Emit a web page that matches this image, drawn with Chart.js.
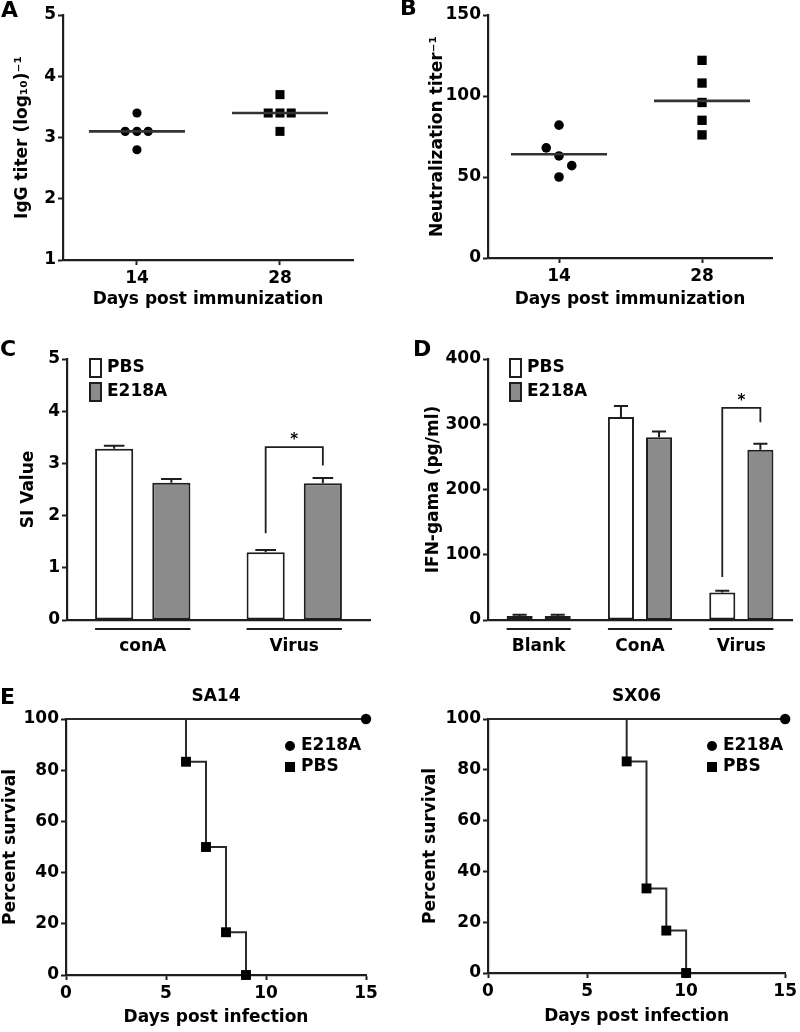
<!DOCTYPE html>
<html>
<head>
<meta charset="utf-8">
<script src="https://cdn.jsdelivr.net/npm/chart.js@4.4.0/dist/chart.umd.min.js"></script>
<style>
  body { margin: 0; background: #fff; }
  #fig { position: relative; width: 800px; height: 1032px; overflow: hidden; }
  #fig canvas { position: absolute; }
  .tag { position: absolute; font: bold 22px "DejaVu Sans", sans-serif; line-height: 1; color: #000; }
</style>
</head>
<body>
<div id="fig">
  <canvas id="pA" width="400" height="320" style="left:0;top:0"></canvas>
  <canvas id="pB" width="400" height="320" style="left:400px;top:0"></canvas>
  <canvas id="pC" width="400" height="340" style="left:0;top:320px"></canvas>
  <canvas id="pD" width="400" height="340" style="left:400px;top:320px"></canvas>
  <canvas id="pE1" width="400" height="372" style="left:0;top:660px"></canvas>
  <canvas id="pE2" width="400" height="372" style="left:400px;top:660px"></canvas>
  <div class="tag" style="left:1px;top:-1px">A</div>
  <div class="tag" style="left:400px;top:-3px">B</div>
  <div class="tag" style="left:0;top:338px">C</div>
  <div class="tag" style="left:413px;top:338px">D</div>
  <div class="tag" style="left:0;top:686px">E</div>
</div>
<script>
// ---- data ----
const immunDays = [14, 28];

// A: IgG titer (log10), 5 mice per time point
const igg14 = [3.4, 3.1, 3.1, 3.1, 2.8];
const igg28 = [3.7, 3.4, 3.4, 3.4, 3.1];
const iggSpread = [0, -1.15, 0, 1.1, 0];   // horizontal scatter of the dots (days)
const iggMedian = [3.1, 3.4];

// B: neutralization titer
const neut14 = [82, 68, 63, 57, 50];
const neut28 = [122, 108, 96, 85, 76];
const neut14Spread = [0, -1.25, 0, 1.25, 0];
const neut28Spread = [0, 0, 0, 0, 0];
const neutMedian = [64, 97];

// C: SI value
const siGroups = ['conA', 'Virus'];
const siPBS = [3.28, 1.30];
const siPBSErr = [0.06, 0.04];
const siE218A = [2.63, 2.62];
const siE218AErr = [0.07, 0.10];
const siSignif = [null, [1.66, 3.31, 2.96]];   // left leg, bracket top, right leg

// D: IFN-gamma (pg/ml)
const ifnGroups = ['Blank', 'ConA', 'Virus'];
const ifnPBS = [6, 311, 42];
const ifnPBSErr = [2, 17, 3];
const ifnE218A = [6, 280, 261];
const ifnE218AErr = [2, 9, 9];
const ifnSignif = [null, null, [66, 325, 303]];

// E: survival
const survTicks = [0, 5, 10, 15];
const e218aDays = [0, 15];
const e218aSurv = [100, 100];
const sa14Days = [0, 6, 7, 8, 9];
const sa14PBS = [100, 83.3, 50, 16.7, 0];
const sx06Days = [0, 7, 8, 9, 10];
const sx06PBS = [100, 83.3, 33.3, 16.7, 0];

// ---- look ----
const INK = '#1e1e1e';
const FAMILY = '"DejaVu Sans", "Liberation Sans", sans-serif';
const FONT = { family: FAMILY, weight: 'bold', size: 17 };
const MEDIAN_HALF = 4.7;
const GREY = '#8b8b8b';

Chart.defaults.font.family = FAMILY;
Chart.defaults.color = '#000';
Chart.defaults.animation = false;

const pts = (xs, ys) => ys.map((y, i) => ({ x: xs[i], y }));

function valueAxis(min, max, step, title, titlePad, width) {
  return {
    position: 'left', min, max,
    grid: { drawOnChartArea: false, tickLength: 5, tickColor: INK, tickWidth: 2 },
    border: { color: INK, width: 2.2 },
    ticks: { stepSize: step, padding: 2, color: '#000', font: FONT },
    title: { display: true, text: title, color: '#000', font: FONT, padding: { top: titlePad, bottom: 0 } },
    afterFit: s => { s.width = width; }
  };
}

function numberAxis(min, max, at, title, titlePad, height) {
  return {
    type: 'linear', min, max,
    afterBuildTicks: s => { s.ticks = at.map(v => ({ value: v })); },
    grid: { drawOnChartArea: false, tickLength: 5, tickColor: INK, tickWidth: 2 },
    border: { color: INK, width: 2.2 },
    ticks: { padding: 3, color: '#000', font: FONT },
    title: { display: true, text: title, color: '#000', font: FONT, padding: { top: 0, bottom: titlePad } },
    afterFit: s => { s.height = height; }
  };
}

function groupAxis(height) {
  return {
    type: 'category',
    grid: { display: false, drawTicks: false },
    border: { color: INK, width: 2.2 },
    ticks: { padding: 16, color: '#000', font: FONT },
    afterFit: s => { s.height = height; }
  };
}

// error bars, group underlines, significance brackets, legends
const extras = {
  id: 'extras',
  afterDatasetsDraw(chart, args, o) {
    const ctx = chart.ctx, a = chart.chartArea, y = chart.scales.y;
    ctx.save();
    ctx.strokeStyle = INK;
    ctx.fillStyle = '#000';
    ctx.lineWidth = 2;
    if (o.bars) {
      chart.data.datasets.forEach((ds, di) => {
        chart.getDatasetMeta(di).data.forEach((el, i) => {
          const top = y.getPixelForValue(ds.data[i] + ds.errorBars[i]);
          const half = el.width * 0.27;
          ctx.beginPath();
          ctx.moveTo(el.x, el.y); ctx.lineTo(el.x, top);
          ctx.moveTo(el.x - half, top); ctx.lineTo(el.x + half, top);
          ctx.stroke();
        });
      });
      const m0 = chart.getDatasetMeta(0).data, m1 = chart.getDatasetMeta(1).data;
      m0.forEach((b0, i) => {
        const b1 = m1[i];
        const ly = a.bottom + 9;
        ctx.beginPath();
        ctx.moveTo(b0.x - b0.width / 2, ly); ctx.lineTo(b1.x + b1.width / 2, ly);
        ctx.stroke();
        const s = o.signif[i];
        if (s) {
          const yt = y.getPixelForValue(s[1]);
          ctx.lineWidth = 1.8;
          ctx.beginPath();
          ctx.moveTo(b0.x, y.getPixelForValue(s[0]));
          ctx.lineTo(b0.x, yt); ctx.lineTo(b1.x, yt);
          ctx.lineTo(b1.x, y.getPixelForValue(s[2]));
          ctx.stroke();
          ctx.lineWidth = 2;
          ctx.font = 'bold 15px ' + FAMILY;
          ctx.textAlign = 'center';
          ctx.textBaseline = 'alphabetic';
          ctx.fillText('*', (b0.x + b1.x) / 2, yt - 3);
        }
      });
      chart.data.datasets.forEach((ds, i) => {
        const bx = a.left + o.legend[0], by = a.top + o.legend[1] + i * 24;
        ctx.fillStyle = ds.backgroundColor;
        ctx.fillRect(bx, by, 11, 18);
        ctx.strokeRect(bx, by, 11, 18);
        ctx.fillStyle = '#000';
        ctx.font = 'bold 17px ' + FAMILY;
        ctx.textAlign = 'left';
        ctx.textBaseline = 'middle';
        ctx.fillText(ds.label, bx + 17, by + 9);
      });
    }
    if (o.markLegend) {
      chart.data.datasets.forEach((ds, i) => {
        const mx = a.left + o.markLegend[0], my = a.top + o.markLegend[1] + i * 21;
        ctx.fillStyle = '#000';
        ctx.beginPath();
        if (ds.pointStyle === 'rect') ctx.rect(mx - 5, my - 5, 10, 10);
        else ctx.arc(mx, my, 5, 0, Math.PI * 2);
        ctx.fill();
        ctx.font = 'bold 17px ' + FAMILY;
        ctx.textAlign = 'left';
        ctx.textBaseline = 'middle';
        ctx.fillText(ds.label, mx + 11, my);
      });
    }
    ctx.restore();
  }
};

function dots(label, xs, ys, style, r) {
  return { label, data: pts(xs, ys), pointStyle: style, pointRadius: r, pointHoverRadius: r,
    backgroundColor: '#000', borderColor: '#000', borderWidth: 0, showLine: false, clip: false };
}
function medianLine(day, m) {
  return { data: [{ x: day - MEDIAN_HALF, y: m }, { x: day + MEDIAN_HALF, y: m }],
    showLine: true, pointRadius: 0, borderColor: '#333', borderWidth: 2.6, clip: false };
}

// A
new Chart(document.getElementById('pA'), {
  type: 'scatter',
  data: { datasets: [
    medianLine(immunDays[0], iggMedian[0]),
    medianLine(immunDays[1], iggMedian[1]),
    dots('14', iggSpread.map(d => immunDays[0] + d), igg14, 'circle', 4.6),
    dots('28', iggSpread.map(d => immunDays[1] + d), igg28, 'rect', 6.4)
  ] },
  options: {
    responsive: false,
    layout: { padding: { top: 15, right: 47, left: 0, bottom: 0 } },
    plugins: { legend: { display: false }, tooltip: { enabled: false } },
    scales: {
      x: numberAxis(6.76, 35.15, immunDays, 'Days post immunization', 10, 60),
      y: valueAxis(1, 5, 1, 'IgG titer (log\u2081\u2080)\u207B\u00B9', 12, 63)
    }
  }
});

// B
new Chart(document.getElementById('pB'), {
  type: 'scatter',
  data: { datasets: [
    medianLine(immunDays[0], neutMedian[0]),
    medianLine(immunDays[1], neutMedian[1]),
    dots('14', neut14Spread.map(d => immunDays[0] + d), neut14, 'circle', 4.8),
    dots('28', neut28Spread.map(d => immunDays[1] + d), neut28, 'rect', 6.6)
  ] },
  options: {
    responsive: false,
    layout: { padding: { top: 15, right: 28, left: 0, bottom: 0 } },
    plugins: { legend: { display: false }, tooltip: { enabled: false } },
    scales: {
      x: numberAxis(7.05, 34.85, immunDays, 'Days post immunization', 10, 62),
      y: valueAxis(0, 150, 50, 'Neutralization titer\u207B\u00B9', 27, 88)
    }
  }
});

function barSets(pbs, pbsErr, vac, vacErr, catPct, barPct) {
  const base = { borderColor: INK, borderWidth: 2, borderSkipped: false,
    categoryPercentage: catPct, barPercentage: barPct };
  return [
    Object.assign({ label: 'PBS', data: pbs, errorBars: pbsErr, backgroundColor: '#ffffff' }, base),
    Object.assign({ label: 'E218A', data: vac, errorBars: vacErr, backgroundColor: GREY }, base)
  ];
}

// C
new Chart(document.getElementById('pC'), {
  type: 'bar',
  data: { labels: siGroups, datasets: barSets(siPBS, siPBSErr, siE218A, siE218AErr, 0.755, 0.667) },
  options: {
    responsive: false,
    layout: { padding: { top: 39, right: 30, left: 0, bottom: 0 } },
    plugins: { legend: { display: false }, tooltip: { enabled: false },
      extras: { bars: true, signif: siSignif, legend: [23, 0] } },
    scales: {
      x: groupAxis(40),
      y: valueAxis(0, 5, 1, 'SI Value', 18, 67)
    }
  },
  plugins: [extras]
});

// D
new Chart(document.getElementById('pD'), {
  type: 'bar',
  data: { labels: ifnGroups, datasets: barSets(ifnPBS, ifnPBSErr, ifnE218A, ifnE218AErr, 0.752, 0.684) },
  options: {
    responsive: false,
    layout: { padding: { top: 39, right: 8, left: 0, bottom: 0 } },
    plugins: { legend: { display: false }, tooltip: { enabled: false },
      extras: { bars: true, signif: ifnSignif, legend: [22, 0] } },
    scales: {
      x: groupAxis(40),
      y: valueAxis(0, 400, 100, 'IFN-gama (pg/ml)', 23, 88)
    }
  },
  plugins: [extras]
});

function survivalChart(id, title, pbsDays, pbsSurv, left, right, bottom, yPad, xPad) {
  const step = { showLine: true, stepped: true, borderColor: '#2a2a2a', borderWidth: 2,
    backgroundColor: '#000', pointBorderWidth: 0, clip: false };
  new Chart(document.getElementById(id), {
    type: 'scatter',
    data: { datasets: [
      Object.assign({}, step, { label: 'E218A', data: pts(e218aDays, e218aSurv), pointStyle: 'circle',
        pointRadius: c => (c.dataIndex === 0 ? 0 : 5.2) }),
      Object.assign({}, step, { label: 'PBS', data: pts(pbsDays, pbsSurv), pointStyle: 'rect',
        pointRadius: c => (c.dataIndex === 0 ? 0 : 7) })
    ] },
    options: {
      responsive: false,
      layout: { padding: { top: 26.8, right: 400 - right, left: 0, bottom: 0 } },
      plugins: {
        legend: { display: false }, tooltip: { enabled: false },
        title: { display: true, text: title, color: '#000', font: FONT, fullSize: false,
          padding: { top: 0, bottom: 11.8 } },
        extras: { markLegend: [224, 27] }
      },
      scales: {
        x: numberAxis(0, 15, survTicks, 'Days post infection', xPad, 372 - bottom),
        y: valueAxis(0, 100, 20, 'Percent survival', yPad, left)
      }
    },
    plugins: [extras]
  });
}

survivalChart('pE1', 'SA14', sa14Days, sa14PBS, 66, 366, 315, 0, 4);
survivalChart('pE2', 'SX06', sx06Days, sx06PBS, 88, 387, 313, 20, 5);
</script>
</body>
</html>
